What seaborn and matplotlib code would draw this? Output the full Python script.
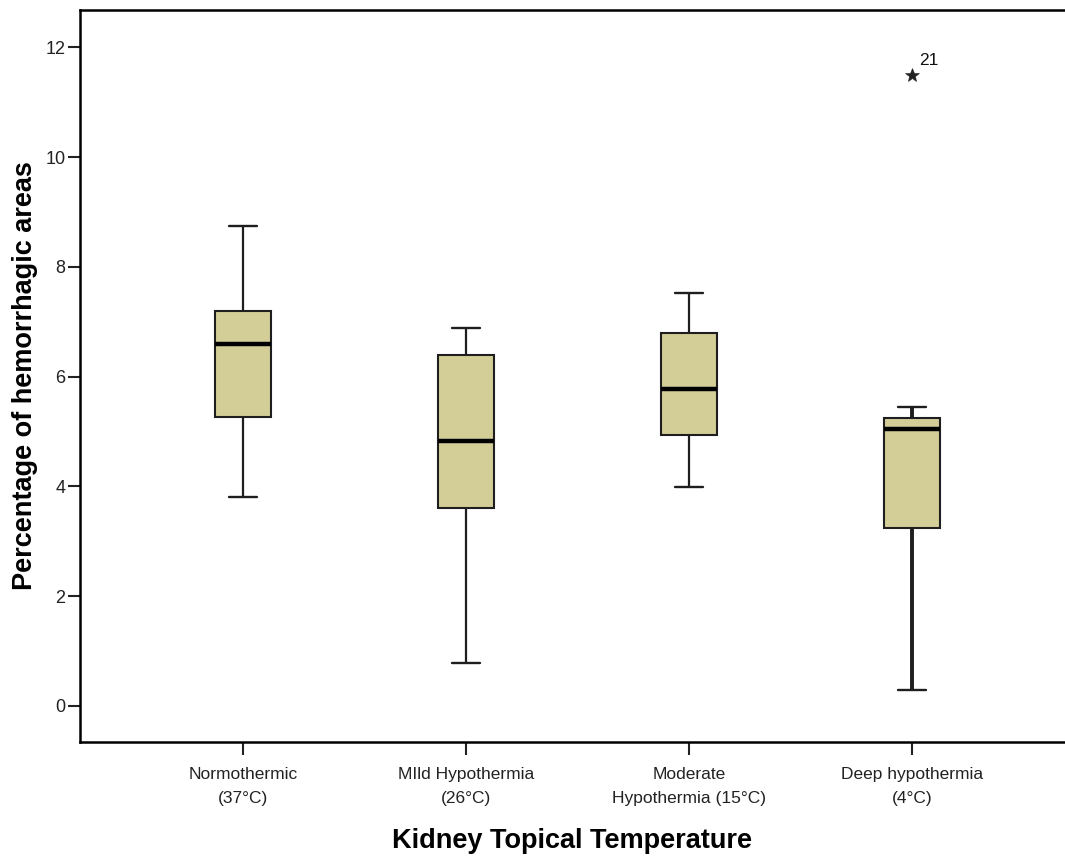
import numpy as np
import pandas as pd
import matplotlib
matplotlib.use("Agg")
import matplotlib.pyplot as plt
import seaborn as sns

# Groups and their box-plot summaries (percentage of hemorrhagic areas)
groups = [
    "Normothermic\n(37°C)",
    "MIld Hypothermia\n(26°C)",
    "Moderate\nHypothermia (15°C)",
    "Deep hypothermia\n(4°C)",
]
whisker_low = [3.81, 0.78, 3.99, 0.29]
q1 = [5.26, 3.61, 4.94, 3.24]
median = [6.59, 4.83, 5.77, 5.05]
q3 = [7.19, 6.39, 6.79, 5.25]
whisker_high = [8.74, 6.88, 7.52, 5.45]
extremes = [[], [], [], [11.49]]
extreme_case_ids = [[], [], [], ["21"]]

ytick_values = [0, 2, 4, 6, 8, 10, 12]


def group_sample(lo, a, m, b, hi, extra):
    """Nine values whose linear quartiles equal (a, m, b) and whose
    1.5*IQR whiskers end at lo / hi, followed by any extreme cases."""
    right = [b] * (2 - len(extra)) + [hi] + list(extra)
    return [lo, a, a, m, m, m] + right


rows = []
for g, lo, a, m, b, hi, ex in zip(groups, whisker_low, q1, median, q3,
                                   whisker_high, extremes):
    for v in group_sample(lo, a, m, b, hi, ex):
        rows.append({"group": g, "value": v})
df = pd.DataFrame(rows)

sns.set_theme(style="white")
plt.rcParams["font.family"] = ["Liberation Sans", "DejaVu Sans"]

fig = plt.figure(figsize=(10.65, 8.6), dpi=100)
ax = fig.add_axes([0.0751, 0.1372, 0.9249, 0.8512])

box_color = "#d3ce98"
edge = "#1e1e1e"
sns.boxplot(
    data=df, x="group", y="value", order=groups, ax=ax,
    color=box_color, saturation=1, width=0.25, whis=1.5,
    linecolor=edge, linewidth=1.5,
    medianprops=dict(color="black", linewidth=3.2),
    whiskerprops=dict(color=edge, linewidth=1.6),
    capprops=dict(color=edge, linewidth=1.7),
    flierprops=dict(marker="*", markersize=10, markerfacecolor="#222222",
                    markeredgecolor="#222222", markeredgewidth=0.4),
)

# The deep hypothermia whiskers are drawn heavier
for ln in ax.lines:
    xd = np.asarray(ln.get_xdata(), dtype=float)
    yd = np.asarray(ln.get_ydata(), dtype=float)
    if xd.size != 2 or not np.all(np.abs(xd - 3) < 0.2):
        continue
    if yd[0] != yd[1]:
        ln.set_linewidth(2.8)
    elif np.ptp(xd) < 0.1:
        ln.set_linewidth(2.5)

# Case labels for the extreme values
for i, (vals, ids) in enumerate(zip(extremes, extreme_case_ids)):
    for v, cid in zip(vals, ids):
        ax.annotate(cid, xy=(i, v), xytext=(5, 5), textcoords="offset points",
                    fontsize=12.5, color="#111111", ha="left", va="bottom")

ax.set_xlim(-0.731, 3.686)
ax.set_ylim(-0.656, 12.68)
ax.set_yticks(ytick_values)
ax.set_yticklabels([str(v) for v in ytick_values])
ax.set_xticks(range(len(groups)))
ax.set_xticklabels(groups, linespacing=1.75)

for sp in ["left", "bottom", "top"]:
    ax.spines[sp].set_visible(True)
    ax.spines[sp].set_color("black")
    ax.spines[sp].set_linewidth(1.8)
ax.spines["right"].set_visible(False)

ax.tick_params(axis="both", which="major", direction="out", length=9,
               width=1.5, color="#222222", labelcolor="#222222",
               left=True, bottom=True, top=False, right=False)
ax.tick_params(axis="y", pad=1.5, labelsize=13)
ax.tick_params(axis="x", pad=9, labelsize=12.5)

ax.set_xlabel("Kidney Topical Temperature", fontsize=19.5, fontweight="bold",
              color="black", labelpad=16)
ax.set_ylabel("Percentage of hemorrhagic areas", fontsize=19.5,
              fontweight="bold", color="black", labelpad=5)
ax.grid(False)

fig.savefig("out.png", dpi=100)
